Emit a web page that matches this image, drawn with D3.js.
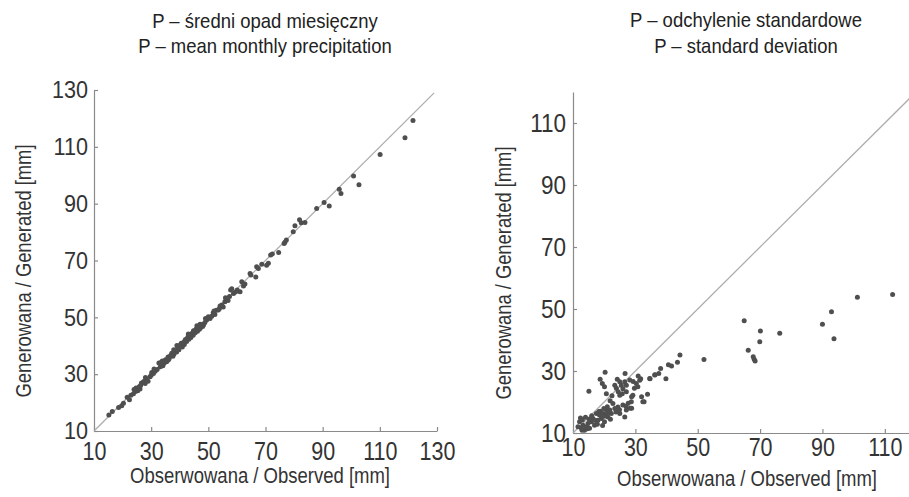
<!DOCTYPE html>
<html>
<head>
<meta charset="utf-8">
<script src="https://cdn.jsdelivr.net/npm/d3@7"></script>
<style>
  html, body { margin: 0; padding: 0; background: #fff; }
  svg { display: block; font-family: "Liberation Sans", Arial, sans-serif; }
</style>
</head>
<body>
<div id="chart"></div>
<script>
// left panel: mean monthly precipitation [observed, generated]
const obsMean = [15.2,16.4,18.6,19.7,20.3,21.6,22.4,22.9,23.8,24.5,24.7,25.3,25.8,26.1,26.6,27.4,27.9,28.3,28.9,29.6,
  30.2,30.8,31.4,32.1,32.7,33.2,33.6,34.1,34.5,35.0,35.4,35.9,36.3,36.8,37.2,37.6,38.0,38.4,38.9,39.3,
  39.7,40.1,40.5,40.9,41.3,41.6,42.0,42.4,42.8,43.2,43.6,43.9,44.3,44.7,45.0,45.4,45.8,46.2,46.5,46.9,
  47.3,47.7,48.3,48.8,49.4,50.0,50.6,51.2,51.7,52.3,52.8,53.5,54.1,54.7,55.2,55.8,56.3,56.9,57.4,57.8,
  58.2,58.8,59.5,60.1,61.1,61.7,62.3,62.8,64.6,64.9,66.6,66.9,67.5,68.7,70.4,71.0,71.8,72.4,74.6,76.5,
  76.8,77.3,79.7,80.3,81.9,82.5,83.8,87.9,90.5,92.3,95.8,96.4,100.8,102.7,110.1,118.8,121.6,
  31.0,33.9,36.0,37.9,39.0,41.8,43.0,44.8,46.0,47.1,48.0,49.0,30.0,28.0,26.3,24.0,52.0,53.9,56.0];
const genMean = [15.6,16.9,18.3,18.9,19.8,21.9,21.0,22.6,23.1,23.9,25.1,24.2,25.6,24.8,26.9,27.4,26.7,28.2,27.5,29.1,
  30.6,30.2,31.0,31.6,33.9,32.6,34.3,33.0,33.8,35.1,34.4,36.0,35.5,36.6,37.4,36.3,37.1,38.2,37.8,39.5,
  38.6,40.2,40.9,39.6,41.1,40.4,42.2,41.5,43.0,42.3,43.8,42.9,44.4,43.7,45.2,44.6,46.0,45.1,46.7,45.8,
  46.3,47.5,47.3,48.2,49.1,50.2,49.6,50.4,51.6,51.0,52.5,52.6,54.0,54.3,53.6,55.5,56.4,55.9,57.3,59.6,
  60.1,58.4,58.9,59.6,59.0,62.5,61.0,61.7,65.4,64.9,64.2,67.8,67.2,68.7,68.3,69.0,71.9,72.3,72.8,76.0,
  76.4,77.2,80.1,82.2,84.3,83.3,83.4,88.3,90.4,89.2,95.1,93.6,99.7,96.7,107.3,113.2,119.3,
  31.8,34.6,35.0,38.6,40.1,41.8,44.1,45.3,47.0,47.6,46.8,49.6,29.6,28.8,26.0,24.6,52.2,53.1,56.9];

// right panel: standard deviation [observed, generated]
const obsStd = [112.5,101.2,92.9,90.0,93.7,76.3,70.1,69.9,64.9,66.2,67.8,68.1,68.4,52.0,44.3,43.5,41.6,40.6,39.8,38.1,
  36.3,34.7,33.9,32.8,32.0,31.7,30.9,29.3,28.8,28.8,26.7,20.3,18.7,15.1,
  19.4,20.1,20.7,23.4,23.9,25.0,25.5,26.0,24.5,25.8,26.6,27.1,27.1,25.0,28.2,30.3,30.8,29.2,32.4,34.6,
  36.2,37.5,31.4,29.7,24.2,22.5,21.9,27.7,28.3,27.0,
  22.8,21.8,20.7,19.6,18.5,17.5,16.4,15.9,14.8,14.3,13.2,12.1,12.7,13.7,11.6,15.3,16.9,18.0,19.1,20.1,
  21.2,22.3,23.4,24.4,26.0,25.0,27.1,28.7,26.6,
  12.4,13.0,14.0,17.2,18.8,19.9,20.5,21.0,19.5,17.8,16.0,15.2,23.8,24.9,22.0,12.9,14.6,20.0,18.3,21.5];
const genStd = [54.7,53.8,49.1,45.1,40.4,42.2,42.9,39.4,46.2,36.7,34.6,33.8,33.2,33.7,35.2,32.8,31.6,32.0,27.5,30.8,
  28.8,27.5,22.5,20.1,21.7,27.5,28.4,26.6,21.7,18.0,29.2,29.6,27.3,23.5,
  26.0,24.9,22.7,25.4,24.4,26.5,25.4,24.3,23.3,22.7,26.5,25.4,23.3,22.2,27.1,26.0,24.9,22.2,20.1,27.6,
  28.7,29.2,27.0,24.4,27.3,22.0,20.4,19.6,18.0,18.6,
  19.5,17.4,17.4,16.3,15.8,16.3,14.7,13.6,13.1,12.0,12.5,13.6,11.5,10.9,12.0,11.5,12.5,14.1,14.7,13.6,
  15.2,16.3,17.9,18.4,19.0,16.3,17.4,20.1,15.2,
  14.8,14.2,15.1,14.0,17.0,17.9,16.0,18.5,12.4,12.8,15.6,14.4,16.8,17.5,14.4,10.9,11.4,15.4,16.9,16.6];

const ticksMean = [10, 30, 50, 70, 90, 110, 130];
const ticksStd = [10, 30, 50, 70, 90, 110];
const diagMean = [10, 129];
const diagStd = [10, 120];

const W = 909, H = 497;
const squeeze = 0.88; // narrow typeface of the original

const svg = d3.select("#chart").append("svg")
  .attr("width", W).attr("height", H);

function narrow(sel, k) {
  sel.each(function() {
    const len = this.getComputedTextLength();
    d3.select(this).attr("textLength", len * (k || squeeze)).attr("lengthAdjust", "spacingAndGlyphs");
  });
}

function panel(cfg) {
  const x = d3.scaleLinear().domain(cfg.domain).range(cfg.xr);
  const y = d3.scaleLinear().domain(cfg.domain).range(cfg.yr);
  const g = svg.append("g");

  const xa = g.append("g").attr("transform", `translate(0,${cfg.yr[0]})`)
    .call(d3.axisBottom(x).tickValues(cfg.ticks).tickSizeInner(-4).tickSizeOuter(0).tickPadding(cfg.xPad));
  const ya = g.append("g").attr("transform", `translate(${cfg.xr[0]},0)`)
    .call(d3.axisLeft(y).tickValues(cfg.ticks).tickSizeInner(-4).tickSizeOuter(0).tickPadding(cfg.yPad));

  [xa, ya].forEach(a => {
    a.attr("font-family", "Liberation Sans, Arial, sans-serif");
    a.select(".domain").attr("stroke", "#8a8a8a").attr("stroke-width", 1.2);
    a.selectAll(".tick line").attr("stroke", "#8a8a8a").attr("stroke-width", 1.2);
    a.selectAll(".tick text").attr("fill", "#333");
  });
  xa.attr("font-size", cfg.xFont);
  ya.attr("font-size", cfg.yFont);
  narrow(xa.selectAll(".tick text"), 0.86);
  narrow(ya.selectAll(".tick text"), 0.9);

  g.append("line")
    .attr("x1", x(cfg.diag[0])).attr("y1", y(cfg.diag[0]))
    .attr("x2", x(cfg.diag[1])).attr("y2", y(cfg.diag[1]))
    .attr("stroke", "#adadad").attr("stroke-width", 1.3);

  g.append("g").selectAll("circle")
    .data(cfg.obs.map((v, i) => [v, cfg.gen[i]]))
    .join("circle")
      .attr("cx", d => x(d[0]))
      .attr("cy", d => y(d[1]))
      .attr("r", 2.5)
      .attr("fill", "#4f4f4f");

  // titles
  const t = g.append("g").attr("fill", "#222").attr("font-size", 21).attr("text-anchor", "middle");
  t.append("text").attr("x", cfg.tx).attr("y", cfg.ty[0]).text(cfg.title[0]);
  t.append("text").attr("x", cfg.tx).attr("y", cfg.ty[1]).text(cfg.title[1]);
  narrow(t.selectAll("text"));

  g.append("text")
    .attr("x", cfg.xl[0]).attr("y", cfg.xl[1])
    .attr("text-anchor", "middle").attr("font-size", 22).attr("fill", "#333")
    .attr("textLength", 260).attr("lengthAdjust", "spacingAndGlyphs")
    .text("Obserwowana / Observed [mm]");

  g.append("text")
    .attr("transform", `translate(${cfg.yl[0]},${cfg.yl[1]}) rotate(-90)`)
    .attr("text-anchor", "middle").attr("font-size", 22).attr("fill", "#333")
    .attr("textLength", 253).attr("lengthAdjust", "spacingAndGlyphs")
    .text("Generowana / Generated [mm]");
}

panel({
  domain: [10, 130], xr: [94, 437], yr: [431, 90],
  ticks: ticksMean, xPad: 11, yPad: 6, xFont: 25, yFont: 24,
  obs: obsMean, gen: genMean, diag: diagMean,
  title: ["P – średni opad miesięczny", "P – mean monthly precipitation"],
  tx: 265, ty: [28, 53], xl: [260, 483], yl: [31, 271]
});

panel({
  domain: [10, 120], xr: [573, 916], yr: [433, 92],
  ticks: ticksStd, xPad: 5, yPad: 7, xFont: 25, yFont: 25,
  obs: obsStd, gen: genStd, diag: diagStd,
  title: ["P – odchylenie standardowe", "P – standard deviation"],
  tx: 746, ty: [27, 53], xl: [747, 486], yl: [511, 273]
});
</script>
</body>
</html>
